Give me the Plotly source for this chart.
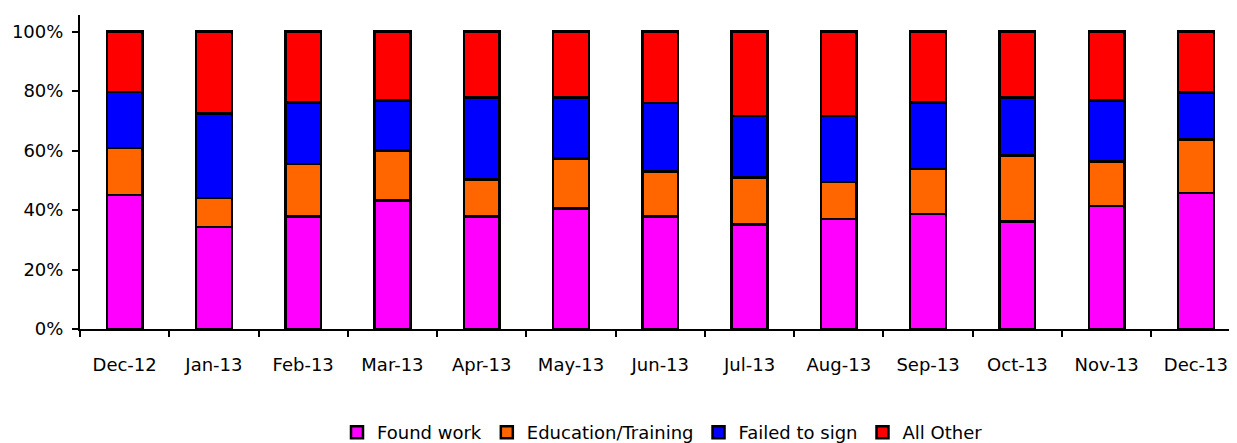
import plotly.graph_objects as go

months = ["Dec-12", "Jan-13", "Feb-13", "Mar-13", "Apr-13", "May-13", "Jun-13",
          "Jul-13", "Aug-13", "Sep-13", "Oct-13", "Nov-13", "Dec-13"]
found_work = [45.0, 34.3, 37.9, 43.2, 37.9, 40.5, 37.9, 35.2, 37.0, 38.7, 36.1, 41.3, 45.8]
education = [15.9, 9.7, 17.6, 16.8, 12.3, 16.8, 15.1, 15.8, 12.4, 15.1, 22.2, 15.1, 17.9]
failed_sign = [18.8, 28.5, 20.6, 16.9, 27.6, 20.5, 23.0, 20.7, 22.3, 22.3, 19.5, 20.5, 15.9]
all_other = [20.3, 27.5, 23.9, 23.1, 22.2, 22.2, 24.0, 28.3, 28.3, 23.9, 22.2, 23.1, 20.4]

series = [
    ("Found work", found_work, "#FF00FF"),
    ("Education/Training", education, "#FF6600"),
    ("Failed to sign", failed_sign, "#0000FF"),
    ("All Other", all_other, "#FF0000"),
]

FONT = "DejaVu Sans"

fig = go.Figure()
for name, vals, col in series:
    fig.add_trace(go.Bar(
        x=months, y=vals, name=name, width=0.4,
        marker=dict(color=col, line=dict(color="black", width=2.5)),
    ))

fig.update_layout(
    barmode="stack",
    width=1237, height=443,
    margin=dict(l=72, r=0, t=7, b=119),
    plot_bgcolor="white", paper_bgcolor="white",
    font=dict(family=FONT, size=18, color="black"),
    showlegend=True,
    legend=dict(orientation="h", x=0.5, xanchor="center", y=-0.33, yanchor="middle",
                font=dict(family=FONT, size=18), traceorder="normal",
                itemwidth=30, tracegroupgap=0),
    xaxis=dict(
        type="category", range=[-0.5, 12.55], automargin=False,
        showline=True, linecolor="black", linewidth=2,
        ticks="outside", tickson="boundaries", ticklen=6, tickwidth=2, tickcolor="black",
        showgrid=False, zeroline=False, ticklabelstandoff=18,
        tickfont=dict(family=FONT, size=18),
    ),
    yaxis=dict(
        range=[0, 105.6], automargin=False,
        tickvals=[0, 20, 40, 60, 80, 100],
        ticktext=["0%", "20%", "40%", "60%", "80%", "100%"],
        showline=True, linecolor="black", linewidth=2,
        ticks="outside", ticklen=6, tickwidth=2, tickcolor="black",
        showgrid=False, zeroline=False, ticklabelstandoff=5,
        tickfont=dict(family=FONT, size=18),
    ),
)

fig.write_html("out.html")
